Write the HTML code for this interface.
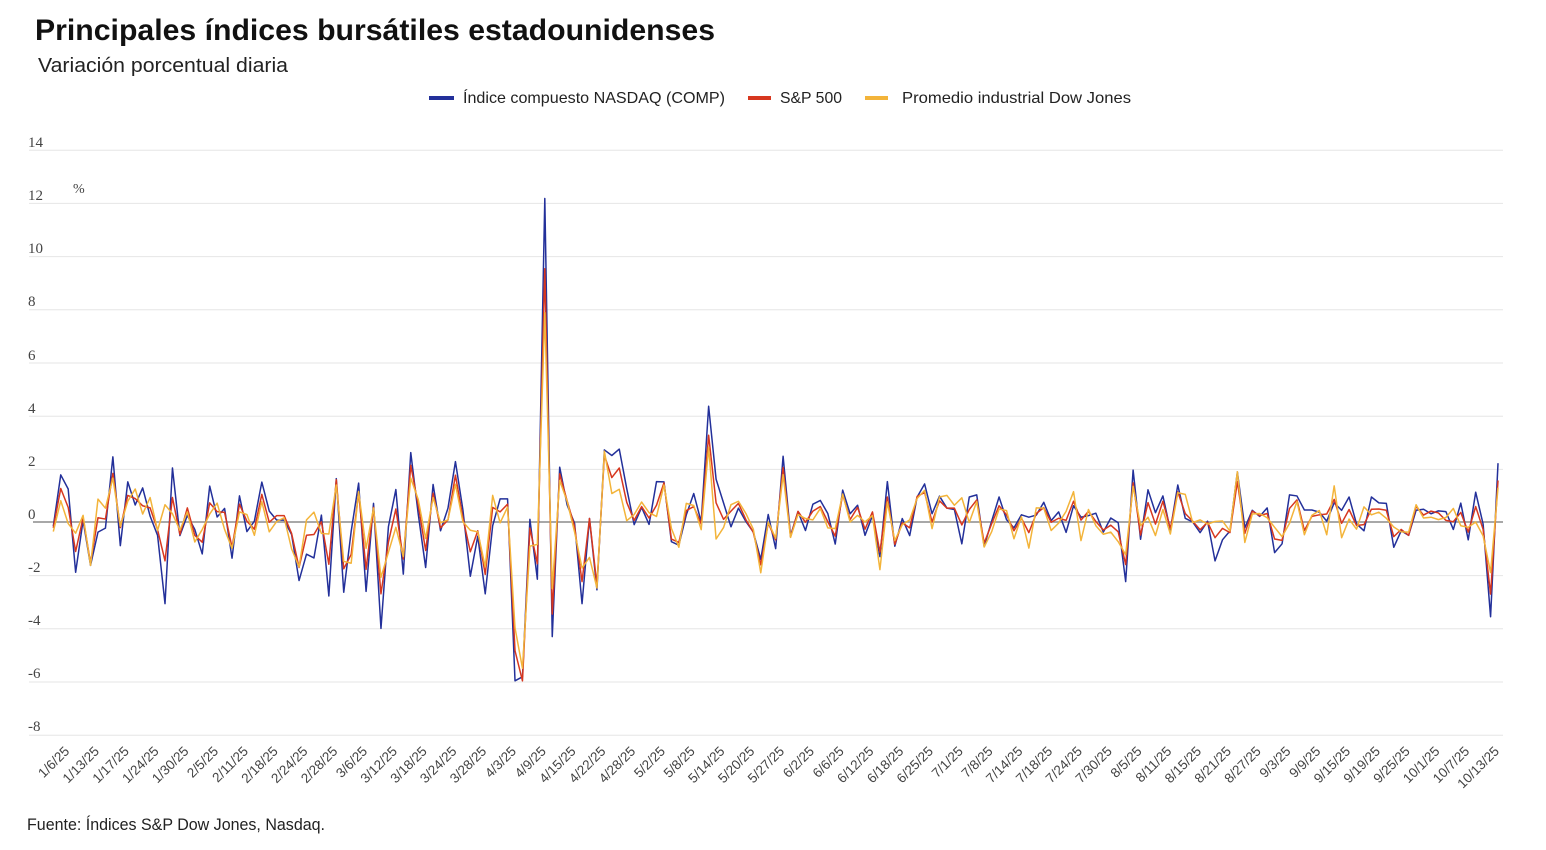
<!DOCTYPE html>
<html><head><meta charset="utf-8">
<style>
html,body{margin:0;padding:0;background:#fff;}
svg{display:block;}
.t{font-family:"Liberation Sans",sans-serif;}
.ax{font-family:"Liberation Serif",serif;font-size:15px;fill:#444;}
.xl{font-family:"Liberation Sans",sans-serif;font-size:13.5px;fill:#444;}
.ln{fill:none;stroke-width:1.5;stroke-linejoin:round;vector-effect:non-scaling-stroke;}
</style></head><body>
<svg width="1546" height="850" viewBox="0 0 1546 850" xmlns="http://www.w3.org/2000/svg">
<rect width="1546" height="850" fill="#fff"/>
<text class="t" x="35" y="40" font-size="30" font-weight="bold" fill="#111" textLength="680" lengthAdjust="spacingAndGlyphs">Principales índices bursátiles estadounidenses</text>
<text class="t" x="38" y="72" font-size="20" fill="#222" textLength="250" lengthAdjust="spacingAndGlyphs">Variación porcentual diaria</text>

<rect x="429" y="96" width="25" height="4" fill="#23309a"/>
<text class="t" x="463" y="103" font-size="16" fill="#222" textLength="262" lengthAdjust="spacingAndGlyphs">Índice compuesto NASDAQ (COMP)</text>
<rect x="748" y="96" width="23" height="4" fill="#d7371f"/>
<text class="t" x="780" y="103" font-size="16" fill="#222" textLength="62" lengthAdjust="spacingAndGlyphs">S&amp;P 500</text>
<rect x="865" y="96" width="23" height="4" fill="#f3b43a"/>
<text class="t" x="902" y="103" font-size="16" fill="#222" textLength="229" lengthAdjust="spacingAndGlyphs">Promedio industrial Dow Jones</text>

<g stroke="#e6e6e6" stroke-width="1">
<line x1="29" x2="1503" y1="150.2" y2="150.2"/>
<line x1="29" x2="1503" y1="203.4" y2="203.4"/>
<line x1="29" x2="1503" y1="256.6" y2="256.6"/>
<line x1="29" x2="1503" y1="309.8" y2="309.8"/>
<line x1="29" x2="1503" y1="363" y2="363"/>
<line x1="29" x2="1503" y1="416.2" y2="416.2"/>
<line x1="29" x2="1503" y1="469.4" y2="469.4"/>
<line x1="29" x2="1503" y1="575.6" y2="575.6"/>
<line x1="29" x2="1503" y1="628.8" y2="628.8"/>
<line x1="29" x2="1503" y1="682" y2="682"/>
<line x1="29" x2="1503" y1="735.2" y2="735.2"/>
</g>
<line x1="33" x2="1503" y1="522" y2="522" stroke="#8c8c8c" stroke-width="1.6"/>

<g class="ax">
<text x="28" y="147">14</text>
<text x="28" y="200">12</text>
<text x="28" y="253">10</text>
<text x="28" y="306">8</text>
<text x="28" y="360">6</text>
<text x="28" y="413">4</text>
<text x="28" y="466">2</text>
<text x="28" y="519">0</text>
<text x="28" y="572">-2</text>
<text x="28" y="625">-4</text>
<text x="28" y="678">-6</text>
<text x="28" y="731">-8</text>
<text x="73" y="193" font-size="14">%</text>
</g>

<g transform="matrix(7.447,0,0,-26.6,53.3,522)">
<polyline class="ln" stroke="#23309a" points="0,-0.16 1,1.77 2,1.24 3,-1.89 4,0.06 5,-1.63 6,-0.38 7,-0.23 8,2.45 9,-0.89 10,1.51 11,0.64 12,1.28 13,0.22 14,-0.5 15,-3.07 16,2.03 17,-0.51 18,0.25 19,-0.28 20,-1.2 21,1.35 22,0.19 23,0.51 24,-1.36 25,0.98 26,-0.36 27,0.03 28,1.5 29,0.41 30,0.07 31,0.07 32,-0.47 33,-2.2 34,-1.21 35,-1.35 36,0.26 37,-2.78 38,1.63 39,-2.64 40,-0.35 41,1.46 42,-2.61 43,0.7 44,-4 45,-0.18 46,1.22 47,-1.96 48,2.61 49,0.31 50,-1.71 51,1.41 52,-0.33 53,0.52 54,2.27 55,0.46 56,-2.04 57,-0.53 58,-2.7 59,-0.14 60,0.87 61,0.87 62,-5.97 63,-5.82 64,0.1 65,-2.15 66,12.16 67,-4.31 68,2.06 69,0.64 70,-0.05 71,-3.07 72,0.13 73,-2.55 74,2.71 75,2.5 76,2.74 77,1.26 78,-0.1 79,0.55 80,-0.09 81,1.52 82,1.51 83,-0.74 84,-0.87 85,0.27 86,1.07 87,0 88,4.35 89,1.61 90,0.72 91,-0.18 92,0.52 93,0.02 94,-0.38 95,-1.41 96,0.28 97,-1 98,2.47 99,-0.51 100,0.39 101,-0.32 102,0.67 103,0.81 104,0.32 105,-0.83 106,1.2 107,0.31 108,0.63 109,-0.5 110,0.24 111,-1.3 112,1.52 113,-0.91 114,0.13 115,-0.51 116,0.94 117,1.43 118,0.31 119,0.97 120,0.52 121,0.47 122,-0.82 123,0.94 124,1.02 125,-0.92 126,0.03 127,0.94 128,0.09 129,-0.22 130,0.27 131,0.18 132,0.26 133,0.74 134,0.05 135,0.38 136,-0.39 137,0.61 138,0.18 139,0.24 140,0.33 141,-0.38 142,0.15 143,-0.03 144,-2.24 145,1.95 146,-0.65 147,1.21 148,0.35 149,0.98 150,-0.3 151,1.39 152,0.14 153,0 154,-0.4 155,0.03 156,-1.46 157,-0.67 158,-0.34 159,1.88 160,-0.22 161,0.44 162,0.21 163,0.53 164,-1.15 165,-0.82 166,1.02 167,0.98 168,0.45 169,0.45 170,0.37 171,0.03 172,0.72 173,0.44 174,0.94 175,-0.07 176,-0.33 177,0.94 178,0.72 179,0.7 180,-0.95 181,-0.33 182,-0.5 183,0.44 184,0.48 185,0.31 186,0.42 187,0.39 188,-0.28 189,0.71 190,-0.67 191,1.12 192,-0.08 193,-3.56 194,2.21"/>
<polyline class="ln" stroke="#d7371f" points="0,-0.22 1,1.26 2,0.55 3,-1.11 4,0.16 5,-1.54 6,0.16 7,0.11 8,1.83 9,-0.21 10,1 11,0.88 12,0.61 13,0.53 14,-0.29 15,-1.46 16,0.92 17,-0.47 18,0.53 19,-0.5 20,-0.76 21,0.72 22,0.39 23,0.36 24,-0.95 25,0.67 26,0.03 27,-0.27 28,1.04 29,-0.01 30,0.24 31,0.24 32,-0.43 33,-1.71 34,-0.5 35,-0.47 36,0.01 37,-1.59 38,1.59 39,-1.76 40,-1.22 41,1.12 42,-1.78 43,0.55 44,-2.7 45,-0.76 46,0.49 47,-1.39 48,2.13 49,0.64 50,-1.07 51,1.08 52,-0.22 53,0.08 54,1.76 55,0.16 56,-1.12 57,-0.33 58,-1.97 59,0.55 60,0.38 61,0.67 62,-4.84 63,-5.97 64,-0.23 65,-1.57 66,9.52 67,-3.46 68,1.81 69,0.79 70,-0.17 71,-2.24 72,0.13 73,-2.36 74,2.51 75,1.67 76,2.03 77,0.74 78,0.06 79,0.58 80,0.15 81,0.63 82,1.47 83,-0.64 84,-0.77 85,0.43 86,0.58 87,-0.07 88,3.26 89,0.72 90,0.1 91,0.41 92,0.7 93,0.09 94,-0.39 95,-1.61 96,-0.04 97,-0.67 98,2.05 99,-0.56 100,0.4 101,-0.01 102,0.41 103,0.58 104,0.01 105,-0.53 106,1.03 107,0.09 108,0.55 109,-0.27 110,0.38 111,-1.13 112,0.94 113,-0.84 114,-0.03 115,-0.22 116,0.96 117,1.11 118,0 119,0.8 120,0.52 121,0.52 122,-0.11 123,0.47 124,0.83 125,-0.79 126,-0.07 127,0.61 128,0.27 129,-0.33 130,0.14 131,-0.4 132,0.32 133,0.54 134,-0.01 135,0.14 136,0.06 137,0.78 138,0.07 139,0.4 140,0.02 141,-0.3 142,-0.12 143,-0.37 144,-1.6 145,1.47 146,-0.49 147,0.73 148,-0.08 149,0.78 150,-0.25 151,1.13 152,0.32 153,0.03 154,-0.29 155,-0.01 156,-0.59 157,-0.24 158,-0.4 159,1.52 160,-0.43 161,0.41 162,0.24 163,0.32 164,-0.64 165,-0.69 166,0.51 167,0.83 168,-0.32 169,0.21 170,0.27 171,0.3 172,0.85 173,-0.05 174,0.47 175,-0.13 176,-0.1 177,0.48 178,0.49 179,0.44 180,-0.55 181,-0.28 182,-0.5 183,0.59 184,0.26 185,0.41 186,0.34 187,0.06 188,0.01 189,0.36 190,-0.38 191,0.58 192,-0.28 193,-2.71 194,1.56"/>
<polyline class="ln" stroke="#f3b43a" points="0,-0.36 1,0.8 2,-0.06 3,-0.42 4,0.25 5,-1.63 6,0.86 7,0.52 8,1.65 9,-0.16 10,0.78 11,1.24 12,0.3 13,0.92 14,-0.32 15,0.65 16,0.31 17,-0.31 18,0.38 19,-0.75 20,-0.28 21,0.3 22,0.71 23,-0.28 24,-0.99 25,0.38 26,0.28 27,-0.5 28,0.77 29,-0.37 30,0.02 31,0.16 32,-1.01 33,-1.69 34,0.08 35,0.37 36,-0.43 37,-0.45 38,1.39 39,-1.48 40,-1.55 41,1.14 42,-0.99 43,0.52 44,-2.08 45,-1.14 46,-0.2 47,-1.3 48,1.65 49,0.85 50,-0.62 51,0.92 52,-0.03 53,0.08 54,1.42 55,0.01 56,-0.31 57,-0.37 58,-1.69 59,1 60,-0.03 61,0.56 62,-3.98 63,-5.5 64,-0.91 65,-0.84 66,7.87 67,-2.5 68,1.56 69,0.78 70,-0.38 71,-1.73 72,-1.33 73,-2.48 74,2.66 75,1.07 76,1.23 77,0.05 78,0.28 79,0.75 80,0.35 81,0.21 82,1.39 83,-0.24 84,-0.95 85,0.7 86,0.62 87,-0.29 88,2.81 89,-0.64 90,-0.21 91,0.65 92,0.78 93,0.32 94,-0.27 95,-1.91 96,0 97,-0.61 98,1.78 99,-0.58 100,0.28 101,0.13 102,0.08 103,0.51 104,-0.22 105,-0.25 106,1.05 107,0 108,0.25 109,0 110,0.24 111,-1.79 112,0.75 113,-0.7 114,-0.1 115,0.08 116,0.89 117,1.19 118,-0.25 119,0.94 120,1 121,0.63 122,0.91 123,-0.02 124,0.77 125,-0.94 126,-0.37 127,0.49 128,0.43 129,-0.63 130,0.2 131,-0.98 132,0.53 133,0.52 134,-0.32 135,-0.04 136,0.4 137,1.14 138,-0.7 139,0.47 140,-0.14 141,-0.46 142,-0.38 143,-0.74 144,-1.23 145,1.34 146,-0.14 147,0.18 148,-0.51 149,0.47 150,-0.45 151,1.1 152,1.04 153,-0.02 154,0.08 155,-0.08 156,0.02 157,0.04 158,-0.34 159,1.89 160,-0.77 161,0.3 162,0.32 163,0.16 164,-0.2 165,-0.55 166,-0.05 167,0.77 168,-0.48 169,0.25 170,0.43 171,-0.48 172,1.36 173,-0.59 174,0.11 175,-0.27 176,0.57 177,0.27 178,0.37 179,0.14 180,-0.19 181,-0.37 182,-0.38 183,0.65 184,0.15 185,0.18 186,0.09 187,0.17 188,0.51 189,-0.14 190,-0.2 191,0 192,-0.52 193,-1.9 194,1.29"/>
</g>

<g class="xl" text-anchor="end">
<text transform="translate(70.2,752) rotate(-45)">1/6/25</text>
<text transform="translate(100,752) rotate(-45)">1/13/25</text>
<text transform="translate(129.8,752) rotate(-45)">1/17/25</text>
<text transform="translate(159.6,752) rotate(-45)">1/24/25</text>
<text transform="translate(189.4,752) rotate(-45)">1/30/25</text>
<text transform="translate(219.1,752) rotate(-45)">2/5/25</text>
<text transform="translate(248.9,752) rotate(-45)">2/11/25</text>
<text transform="translate(278.7,752) rotate(-45)">2/18/25</text>
<text transform="translate(308.5,752) rotate(-45)">2/24/25</text>
<text transform="translate(338.3,752) rotate(-45)">2/28/25</text>
<text transform="translate(368.1,752) rotate(-45)">3/6/25</text>
<text transform="translate(397.9,752) rotate(-45)">3/12/25</text>
<text transform="translate(427.7,752) rotate(-45)">3/18/25</text>
<text transform="translate(457.4,752) rotate(-45)">3/24/25</text>
<text transform="translate(487.2,752) rotate(-45)">3/28/25</text>
<text transform="translate(517,752) rotate(-45)">4/3/25</text>
<text transform="translate(546.8,752) rotate(-45)">4/9/25</text>
<text transform="translate(576.6,752) rotate(-45)">4/15/25</text>
<text transform="translate(606.4,752) rotate(-45)">4/22/25</text>
<text transform="translate(636.2,752) rotate(-45)">4/28/25</text>
<text transform="translate(666,752) rotate(-45)">5/2/25</text>
<text transform="translate(695.7,752) rotate(-45)">5/8/25</text>
<text transform="translate(725.5,752) rotate(-45)">5/14/25</text>
<text transform="translate(755.3,752) rotate(-45)">5/20/25</text>
<text transform="translate(785.1,752) rotate(-45)">5/27/25</text>
<text transform="translate(814.9,752) rotate(-45)">6/2/25</text>
<text transform="translate(844.7,752) rotate(-45)">6/6/25</text>
<text transform="translate(874.5,752) rotate(-45)">6/12/25</text>
<text transform="translate(904.3,752) rotate(-45)">6/18/25</text>
<text transform="translate(934,752) rotate(-45)">6/25/25</text>
<text transform="translate(963.8,752) rotate(-45)">7/1/25</text>
<text transform="translate(993.6,752) rotate(-45)">7/8/25</text>
<text transform="translate(1023.4,752) rotate(-45)">7/14/25</text>
<text transform="translate(1053.2,752) rotate(-45)">7/18/25</text>
<text transform="translate(1083,752) rotate(-45)">7/24/25</text>
<text transform="translate(1112.8,752) rotate(-45)">7/30/25</text>
<text transform="translate(1142.6,752) rotate(-45)">8/5/25</text>
<text transform="translate(1172.3,752) rotate(-45)">8/11/25</text>
<text transform="translate(1202.1,752) rotate(-45)">8/15/25</text>
<text transform="translate(1231.9,752) rotate(-45)">8/21/25</text>
<text transform="translate(1261.7,752) rotate(-45)">8/27/25</text>
<text transform="translate(1291.5,752) rotate(-45)">9/3/25</text>
<text transform="translate(1321.3,752) rotate(-45)">9/9/25</text>
<text transform="translate(1351.1,752) rotate(-45)">9/15/25</text>
<text transform="translate(1380.9,752) rotate(-45)">9/19/25</text>
<text transform="translate(1410.7,752) rotate(-45)">9/25/25</text>
<text transform="translate(1440.4,752) rotate(-45)">10/1/25</text>
<text transform="translate(1470.2,752) rotate(-45)">10/7/25</text>
<text transform="translate(1500,752) rotate(-45)">10/13/25</text>
</g>

<text class="t" x="27" y="830" font-size="16.5" fill="#222" textLength="298" lengthAdjust="spacingAndGlyphs">Fuente: Índices S&amp;P Dow Jones, Nasdaq.</text>
</svg>
</body></html>
